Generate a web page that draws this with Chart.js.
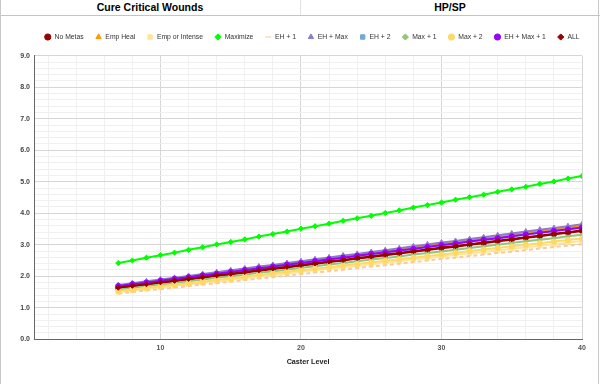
<!DOCTYPE html>
<html>
<head>
<meta charset="utf-8">
<script src="https://cdn.jsdelivr.net/npm/chart.js@4"></script>
<style>
html,body{margin:0;padding:0;background:#fff;}
#wrap{position:relative;width:600px;height:384px;overflow:hidden;font-family:"Liberation Sans",Arial,sans-serif;background:#fff;}
.hdr{position:absolute;top:0;height:15px;line-height:15px;text-align:center;font-weight:bold;font-size:10.5px;color:#000;}
#h1{left:0;width:300px;}
#h2{left:300px;width:300px;}
#hline{position:absolute;left:0;top:15px;width:600px;height:1px;background:#c4c4c4;}
#vline{position:absolute;left:300px;top:0;width:1px;height:15px;background:#e2e2e2;}
#lb{position:absolute;left:0;top:0;width:1px;height:384px;background:#c8c8c8;}
#rb{position:absolute;left:598px;top:0;width:1px;height:384px;background:#c8c8c8;}
#cv{position:absolute;left:0;top:16px;}
</style>
</head>
<body>
<div id="wrap">
  <div class="hdr" id="h1">Cure Critical Wounds</div>
  <div class="hdr" id="h2">HP/SP</div>
  <div id="hline"></div>
  <div id="vline"></div>
  <canvas id="cv" width="600" height="368"></canvas>
  <div id="lb"></div>
  <div id="rb"></div>
</div>
<script>
const levels = [7,8,9,10,11,12,13,14,15,16,17,18,19,20,21,22,23,24,25,26,27,28,29,30,31,32,33,34,35,36,37,38,39,40];
const seriesNames = ["No Metas","Emp Heal","Emp or Intense","Maximize","EH + 1","EH + Max","EH + 2","Max + 1","Max + 2","EH + Max + 1","ALL"];

const noMetas = [1.62,1.68,1.73,1.79,1.84,1.90,1.95,2.01,2.06,2.12,2.17,2.23,2.28,2.34,2.39,2.45,2.50,2.56,2.61,2.67,2.72,2.78,2.83,2.89,2.94,3.00,3.05,3.11,3.16,3.22,3.27,3.33,3.38,3.44];
const empHeal = [1.70,1.76,1.82,1.87,1.93,1.99,2.05,2.10,2.16,2.22,2.28,2.33,2.39,2.45,2.51,2.56,2.62,2.68,2.74,2.79,2.85,2.91,2.97,3.02,3.08,3.14,3.20,3.25,3.31,3.37,3.43,3.48,3.54,3.60];
const empOrIntense = [1.50,1.55,1.60,1.65,1.70,1.75,1.79,1.84,1.89,1.94,1.99,2.04,2.09,2.14,2.19,2.24,2.28,2.33,2.38,2.43,2.48,2.53,2.58,2.63,2.68,2.73,2.77,2.82,2.87,2.92,2.97,3.02,3.07,3.12];
const maximize = [2.42,2.50,2.59,2.67,2.75,2.84,2.92,3.01,3.09,3.17,3.26,3.34,3.42,3.51,3.59,3.67,3.76,3.84,3.92,4.01,4.09,4.18,4.26,4.34,4.43,4.51,4.59,4.68,4.76,4.84,4.93,5.01,5.10,5.18];
const ehPlus1 = [1.45,1.50,1.55,1.59,1.64,1.69,1.74,1.78,1.83,1.88,1.93,1.97,2.02,2.07,2.12,2.16,2.21,2.26,2.31,2.35,2.40,2.45,2.50,2.55,2.59,2.64,2.69,2.74,2.78,2.83,2.88,2.93,2.97,3.02];
const ehMax = [1.72,1.78,1.84,1.90,1.95,2.01,2.07,2.13,2.19,2.25,2.31,2.36,2.42,2.48,2.54,2.60,2.66,2.71,2.77,2.83,2.89,2.95,3.01,3.07,3.12,3.18,3.24,3.30,3.36,3.42,3.48,3.53,3.59,3.65];
const ehPlus2 = [1.68,1.74,1.79,1.85,1.91,1.96,2.02,2.08,2.13,2.19,2.25,2.30,2.36,2.42,2.47,2.53,2.59,2.64,2.70,2.76,2.81,2.87,2.93,2.98,3.04,3.10,3.15,3.21,3.27,3.32,3.38,3.44,3.49,3.55];
const maxPlus1 = [1.58,1.63,1.69,1.74,1.79,1.84,1.90,1.95,2.00,2.05,2.11,2.16,2.21,2.27,2.32,2.37,2.42,2.48,2.53,2.58,2.63,2.69,2.74,2.79,2.84,2.90,2.95,3.00,3.06,3.11,3.16,3.21,3.27,3.32];
const maxPlus2 = [1.53,1.58,1.63,1.68,1.73,1.78,1.83,1.88,1.93,1.99,2.04,2.09,2.14,2.19,2.24,2.29,2.34,2.39,2.44,2.49,2.54,2.59,2.64,2.69,2.74,2.80,2.85,2.90,2.95,3.00,3.05,3.10,3.15,3.20];
const ehMaxPlus1 = [1.69,1.75,1.80,1.86,1.92,1.97,2.03,2.08,2.14,2.20,2.25,2.31,2.37,2.42,2.48,2.54,2.59,2.65,2.71,2.76,2.82,2.87,2.93,2.99,3.04,3.10,3.16,3.21,3.27,3.33,3.38,3.44,3.49,3.55];
const allMetas = [1.64,1.70,1.75,1.81,1.86,1.92,1.97,2.03,2.08,2.14,2.19,2.25,2.30,2.36,2.41,2.47,2.52,2.58,2.63,2.69,2.74,2.80,2.85,2.91,2.96,3.02,3.07,3.13,3.18,3.24,3.29,3.35,3.40,3.46];

const yTickLabels = ["0.0","1.0","2.0","3.0","4.0","5.0","6.0","7.0","8.0","9.0"];
const xTickLabels = ["10","20","30","40"];

const seriesValues = [noMetas, empHeal, empOrIntense, maximize, ehPlus1, ehMax, ehPlus2, maxPlus1, maxPlus2, ehMaxPlus1, allMetas];
const colors = ['#990000','#ff9900','#ffe599','#00ff00','#f9cb9c','#8e7cc3','#6fa8dc','#93c47d','#ffd966','#9900ff','#990000'];
const styles = ['circle','triangle','rect','rectRot','line','triangle','rect','rectRot','circle','circle','rectRot'];

const datasets = seriesValues.map((vals, i) => ({
  label: seriesNames[i],
  data: vals.map((v, k) => ({x: levels[k], y: v})),
  borderColor: colors[i],
  backgroundColor: colors[i],
  pointBackgroundColor: colors[i],
  pointBorderColor: colors[i],
  pointStyle: styles[i],
  pointRadius: styles[i] === 'line' ? 0 : (styles[i] === 'triangle' || styles[i]==='rect' ? 3 : 2.6),
  pointBorderWidth: 1,
  borderWidth: 2,
  borderDash: styles[i] === 'line' ? [4, 3] : [],
  tension: 0,
  order: seriesValues.length - i
}));

const LEGEND_H = 33.6;
const LEGEND_SHIFT = 21;
const legendFix = {
  id: 'legendFix',
  beforeLayout(chart) {
    if (chart.legend && !chart.legend._fixed) {
      const orig = chart.legend.fit;
      chart.legend.fit = function() { orig.call(this); this.height = LEGEND_H; };
      chart.legend._fixed = true;
    }
  },
  afterLayout(chart) {
    if (chart.legend) {
      chart.legend.left += LEGEND_SHIFT;
      chart.legend.right += LEGEND_SHIFT;
    }
  }
};

const isMajorY = v => Math.abs(v - Math.round(v)) < 1e-6;

new Chart(document.getElementById('cv'), {
  type: 'line',
  data: { datasets },
  plugins: [legendFix],
  options: {
    responsive: false,
    animation: false,
    devicePixelRatio: 1,
    layout: { padding: { top: 6.1, left: 0, right: 18, bottom: 0 } },
    plugins: {
      tooltip: { enabled: false },
      legend: {
        position: 'top',
        labels: {
          usePointStyle: true,
          boxHeight: 4.4,
          padding: 11.5,
          color: '#333',
          font: { family: '"Liberation Sans", Arial, sans-serif', size: 6.8 },
          sort: (a, b) => a.datasetIndex - b.datasetIndex,
          generateLabels: chart => {
            const items = Chart.defaults.plugins.legend.labels.generateLabels(chart);
            items.forEach(it => { it.lineDash = []; });
            return items;
          }
        }
      }
    },
    scales: {
      x: {
        type: 'linear',
        min: 1, max: 40,
        afterFit: s => { s.height = 44.7; },
        ticks: {
          stepSize: 2, autoSkip: false, maxRotation: 0, padding: 5,
          color: '#555',
          font: { family: '"Liberation Sans", Arial, sans-serif', size: 7, weight: 'bold' },
          callback: v => (xTickLabels.includes(String(v)) ? String(v) : '')
        },
        grid: {
          drawTicks: false,
          color: c => (c.tick && c.tick.value % 10 === 0) ? '#d6d6d6' : '#f0f0f0',
          lineWidth: 1
        },
        border: { color: '#666', width: 1 },
        title: {
          display: true, text: 'Caster Level', color: '#222',
          font: { family: '"Liberation Sans", Arial, sans-serif', size: 7.2, weight: 'bold' },
          padding: { top: 0, bottom: 17.8 }
        }
      },
      y: {
        min: 0, max: 9,
        afterFit: s => { s.width = 34; },
        ticks: {
          stepSize: 0.2, autoSkip: false, padding: 4,
          color: '#444',
          font: { family: '"Liberation Sans", Arial, sans-serif', size: 7, weight: 'bold' },
          callback: v => {
            if (!isMajorY(v)) return '';
            const lbl = v.toFixed(1);
            return yTickLabels.includes(lbl) ? lbl : '';
          }
        },
        grid: {
          drawTicks: false,
          color: c => (c.tick && isMajorY(c.tick.value)) ? '#d6d6d6' : '#f0f0f0',
          lineWidth: 1
        },
        border: { color: '#666', width: 1 }
      }
    }
  }
});
</script>
</body>
</html>
